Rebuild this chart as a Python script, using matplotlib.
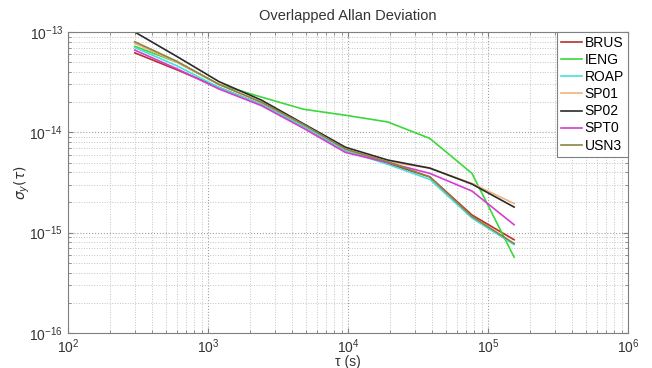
import matplotlib
matplotlib.use("Agg")
import matplotlib.pyplot as plt
import numpy as np
from matplotlib.ticker import NullFormatter

plt.rcParams["font.family"] = ["Liberation Sans", "DejaVu Sans"]

# averaging times (s) and overlapped Allan deviation per station
tau = [300, 600, 1200, 2400, 4800, 9600, 19200, 38400, 76800, 153600]

brus = [6.2e-14, 4.2e-14, 2.8e-14, 1.9e-14, 1.15e-14, 6.6e-15, 4.9e-15, 3.6e-15, 1.5e-15, 8.5e-16]
ieng = [7.2e-14, 5.0e-14, 3.0e-14, 2.25e-14, 1.7e-14, 1.48e-14, 1.27e-14, 8.7e-15, 3.9e-15, 5.7e-16]
roap = [7.0e-14, 4.6e-14, 2.8e-14, 1.9e-14, 1.15e-14, 6.6e-15, 4.8e-15, 3.4e-15, 1.4e-15, 7.6e-16]
sp01 = [7.7e-14, 5.0e-14, 3.0e-14, 2.0e-14, 1.2e-14, 6.8e-15, 5.1e-15, 4.4e-15, 3.1e-15, 1.95e-15]
sp02 = [1.0e-13, 5.7e-14, 3.2e-14, 2.1e-14, 1.22e-14, 7.1e-15, 5.3e-15, 4.4e-15, 3.05e-15, 1.8e-15]
spt0 = [6.6e-14, 4.3e-14, 2.7e-14, 1.85e-14, 1.1e-14, 6.3e-15, 5.0e-15, 3.9e-15, 2.6e-15, 1.2e-15]
usn3 = [8.0e-14, 5.1e-14, 3.0e-14, 2.0e-14, 1.2e-14, 6.8e-15, 5.1e-15, 3.6e-15, 1.45e-15, 7.8e-16]

labels = ["BRUS", "IENG", "ROAP", "SP01", "SP02", "SPT0", "USN3"]
colors = ["#b8302a", "#3ad83a", "#45e0d8", "#f2b27e", "#2a2a2a", "#d43cd4", "#8c8444"]


def main():
    fig = plt.figure(figsize=(6.52, 3.68), dpi=100)
    ax = fig.add_axes([0.1043, 0.0951, 0.8589, 0.8179])

    series = [brus, ieng, roap, sp01, sp02, spt0, usn3]
    for values, label, color in zip(series, labels, colors):
        ax.loglog(tau, values, color=color, lw=1.2, label=label)

    ax.set_xlim(1e2, 1e6)
    ax.set_ylim(1e-16, 1e-13)
    ax.xaxis.set_minor_formatter(NullFormatter())
    ax.yaxis.set_minor_formatter(NullFormatter())
    ax.grid(True, which="major", ls=":", color="#a0a0a0", lw=0.8)
    ax.grid(True, which="minor", ls=":", color="#c4c4c4", lw=0.7)
    for spine in ax.spines.values():
        spine.set_color("#808080")
    ax.tick_params(which="both", direction="in", colors="#808080", labelcolor="#333333",
                   labelsize=10, top=True, right=True)
    ax.tick_params(axis="x", pad=3)

    ax.set_title("Overlapped Allan Deviation", fontsize=10.5, color="#333333", pad=9)
    ax.set_xlabel("τ (s)", fontsize=10, color="#333333")
    ax.xaxis.label.set_va("center")
    ax.xaxis.set_label_coords(0.5, -0.096)
    ax.set_ylabel(r"$\sigma_y(\tau)$", fontsize=10, color="#333333", labelpad=-2)

    leg = ax.legend(loc="upper right", fontsize=10, handlelength=1.5, handletextpad=0.2,
                    borderaxespad=0, borderpad=0.3, labelspacing=0.22, fancybox=False,
                    framealpha=1)
    leg.get_frame().set_edgecolor("#808080")
    leg.get_frame().set_linewidth(0.8)

    fig.savefig("out.png", dpi=100)
    plt.close(fig)


if __name__ == "__main__":
    main()
